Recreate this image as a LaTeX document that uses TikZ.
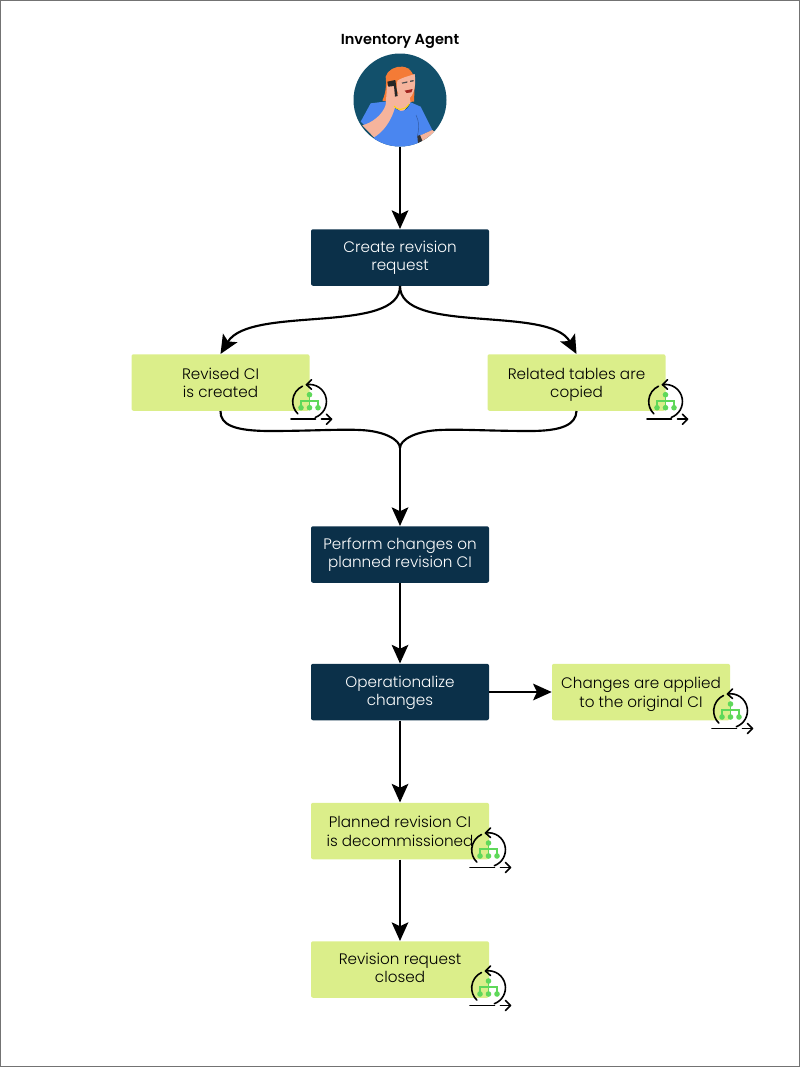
\documentclass[tikz,border=0pt]{standalone}
\usepackage{fontspec}
\setmainfont{Poppins}[UprightFont=* Light,BoldFont=* SemiBold]
\usetikzlibrary{arrows.meta}
\definecolor{navy}{HTML}{0B3049}
\definecolor{lime}{HTML}{DBEE8A}
\definecolor{teal}{HTML}{12506B}
\definecolor{hair}{HTML}{F47B36}
\definecolor{skin}{HTML}{F6B49C}
\definecolor{shirt}{HTML}{4A86F0}
\definecolor{leaf}{HTML}{5FD85A}
\newlength{\pxu}\setlength{\pxu}{0.75pt}
\newcommand{\tophi}{\rule{0pt}{10.2pt}}
\newcommand{\toplo}{\rule{0pt}{13pt}}
\tikzset{
 base/.style={rounded corners=1.5pt,minimum width=178\pxu,minimum height=56.5\pxu,align=center,font=\fontsize{11.4}{13.6}\selectfont,inner sep=0pt,execute at end node=\strut},
 dark/.style={base,fill=navy,text=white},
 light/.style={base,fill=lime,text=black},
 flow/.style={line width=1.6pt,black,-{Stealth[length=14pt,width=12.5pt,inset=3pt]}},
 link/.style={line width=1.6pt,black},
 pics/cycle/.style={code={
   \draw[line width=1.2pt,line cap=round] (-3,-17) arc[start angle=-100,end angle=70,radius=17];
   \draw[line width=1.2pt,line cap=round] (-7,-15.5) arc[start angle=-115,end angle=-226,radius=17];
   \draw[line width=1.2pt,line cap=round,line join=round] (2,-22) -- (-3,-17) -- (2,-12.5);
   \draw[line width=1.2pt,line cap=round] (-18.5,17.5) -- (6,17.5);
   \draw[line width=1.2pt,line cap=round] (12,17.5) -- (22,17.5);
   \draw[line width=1.2pt,line cap=round,line join=round] (17,12.5) -- (22,17.5) -- (17,22.5);
   \draw[leaf,line width=1.3pt] (0,-7) -- (0,6) (-8.5,6) -- (-8.5,-1) -- (8.5,-1) -- (8.5,6);
   \fill[leaf] (0,-7) circle[radius=2.8] (0,6) circle[radius=2.8] (-8.5,6) circle[radius=2.8] (8.5,6) circle[radius=2.8];
 }},
}
\begin{document}
\begin{tikzpicture}[x=0.75pt,y=-0.75pt]
\useasboundingbox (0,0) rectangle (800,1067);
\draw[gray!90!black,line width=1.1pt] (0.5,0.5) rectangle (799.5,1066.5);
\node[font=\bfseries\fontsize{10.9}{13}\selectfont] (title) at (400,41) {Inventory Agent};
\node[circle,fill=teal,minimum size=93\pxu,inner sep=0pt] (agent) at (400,100) {};
\begin{scope}
\clip (400,100) circle[radius=46.5];
\begin{scope}[shift={(354,60)},x=0.25pt,y=-0.25pt]
\fill[hair] (95,50) .. controls (100,30) and (125,18) .. (145,20) .. controls (170,22) and (184,45) .. (182,75) -- (180,125) -- (130,127) -- (85,122) .. controls (95,100) and (98,75) .. (95,50) -- cycle;
\fill[skin] (120,140) -- (128,100) -- (165,100) -- (170,128) -- (145,158) -- cycle;
\fill[shirt] (20,185) -- (50,130) -- (115,122) -- (118,135) .. controls (128,160) and (160,160) .. (170,127) -- (200,140) -- (235,210) -- (195,228) -- (190,275) -- (60,275) -- (60,225) -- cycle;
\draw[black!30!shirt,line width=0.4pt] (186,165) .. controls (196,185) and (196,205) .. (190,228);
\fill[skin] (130,62) .. controls (145,52) and (160,50) .. (182,42) .. controls (186,70) and (182,100) .. (168,113) .. controls (150,122) and (135,108) .. (128,90) -- cycle;
\fill[hair] (118,62) .. controls (135,60) and (158,50) .. (166,26) -- (120,28) -- cycle;
\fill[skin] (25,196) .. controls (55,188) and (85,165) .. (95,135) -- (99,80) .. controls (102,64) and (122,62) .. (127,82) -- (128,115) .. controls (125,150) and (105,205) .. (60,232) -- cycle;
\fill[black!85] (100,65) -- (124,60) -- (131,108) -- (123,110) -- (120,78) -- (103,80) -- cycle;
\draw[yellow!75!orange,line width=0.7pt] (120,138) .. controls (128,150) and (150,155) .. (165,132);
\fill[skin] (195,228) -- (235,210) -- (252,225) -- (205,248) -- cycle;
\fill[black!80] (190,228) -- (198,225) -- (206,245) -- (192,250) -- cycle;
\fill[red!55!black!80!skin] (152,92) -- (176,87) -- (172,97) -- (158,99) -- cycle;
\fill[black!70] (143,68) -- (160,64) -- (160,68) -- (145,71) -- cycle;
\fill[black!70] (168,62) -- (179,60) -- (179,64) -- (168,66) -- cycle;
\end{scope}
\end{scope}

\node[dark] (create) at (400,257.5) {\tophi Create revision\\request};
\node[light] (revised) at (220.5,382.5) {\toplo Revised CI\\is created};
\node[light] (related) at (576.5,382.5) {\toplo Related tables are\\copied};
\node[dark] (perform) at (400,554.5) {\tophi Perform changes on\\planned revision CI};
\node[dark] (oper) at (400,692) {\tophi Operationalize\\changes};
\node[light] (applied) at (641,692) {\toplo Changes are applied\\to the original CI};
\node[light] (decom) at (400,831) {\toplo Planned revision CI\\is decommissioned};
\node[light] (closed) at (400,969.5) {\tophi Revision request\\closed};
\coordinate (merge) at (400,448);

\pic at (309.5,401.7) {cycle};
\pic at (665.5,401.7) {cycle};
\pic at (730.5,711) {cycle};
\pic at (488.5,850) {cycle};
\pic at (488.5,988) {cycle};

\draw[flow] (agent.south) -- (create.north);
\draw[flow] (create.south) .. controls (400,335) and (250,305) .. (revised.north);
\draw[flow] (create.south) .. controls (400,335) and (550,305) .. (related.north);
\draw[link] (revised.south) .. controls (220,425) and (235,431) .. (270,431) .. controls (310,431) and (340,429) .. (360,430) .. controls (385,431) and (400,440) .. (merge);
\draw[link] (related.south) .. controls (576,425) and (561,431) .. (530,431) .. controls (490,431) and (460,429) .. (440,430) .. controls (415,431) and (400,440) .. (merge);
\draw[flow] (merge) -- (perform.north);
\draw[flow] (perform.south) -- (oper.north);
\draw[flow] (oper.east) -- (applied.west);
\draw[flow] (oper.south) -- (decom.north);
\draw[flow] (decom.south) -- (closed.north);
\end{tikzpicture}
\end{document}
